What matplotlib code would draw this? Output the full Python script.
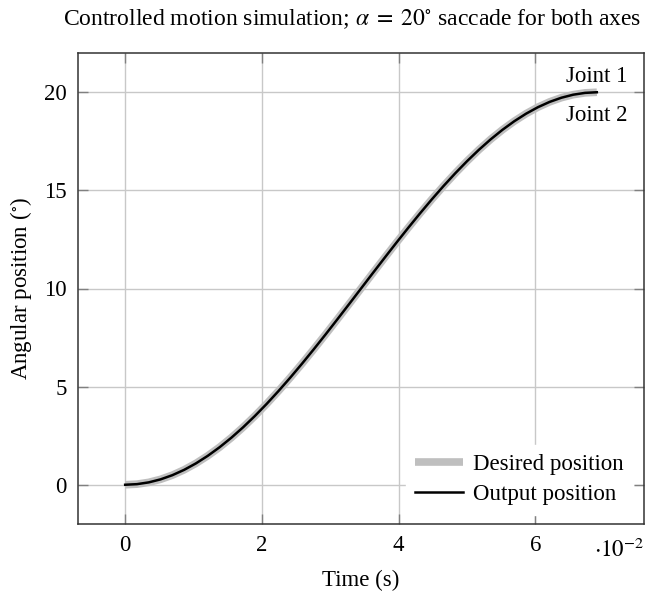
import matplotlib
matplotlib.use("Agg")
import matplotlib.pyplot as plt

plt.rcParams["font.family"] = ["Liberation Serif", "DejaVu Serif"]
plt.rcParams["mathtext.fontset"] = "stix"
plt.rcParams["font.size"] = 16.5

# Values (time in seconds, angle in degrees)
time_s = [0.0, 0.001725, 0.00345, 0.005175, 0.0069, 0.008625, 0.01035,
          0.012075, 0.0138, 0.015525, 0.01725, 0.018975, 0.0207, 0.022425,
          0.02415, 0.025875, 0.0276, 0.029325, 0.03105, 0.032775, 0.0345,
          0.036225, 0.03795, 0.039675, 0.0414, 0.043125, 0.04485, 0.046575,
          0.0483, 0.050025, 0.05175, 0.053475, 0.0552, 0.056925, 0.05865,
          0.060375, 0.0621, 0.063825, 0.06555, 0.067275, 0.069]
desired_deg = [0.0, 0.031, 0.123, 0.276, 0.489, 0.761, 1.090, 1.474, 1.910,
               2.396, 2.929, 3.506, 4.122, 4.775, 5.460, 6.173, 6.910, 7.665,
               8.436, 9.215, 10.0, 10.785, 11.564, 12.335, 13.090, 13.827,
               14.540, 15.225, 15.878, 16.494, 17.071, 17.604, 18.090, 18.526,
               18.910, 19.239, 19.511, 19.724, 19.877, 19.969, 20.0]
output_deg = [0.0, 0.030, 0.121, 0.274, 0.487, 0.759, 1.088, 1.472, 1.908,
              2.394, 2.927, 3.504, 4.120, 4.773, 5.458, 6.171, 6.908, 7.663,
              8.434, 9.213, 9.998, 10.783, 11.562, 12.333, 13.088, 13.825,
              14.538, 15.223, 15.876, 16.492, 17.069, 17.602, 18.088, 18.524,
              18.908, 19.237, 19.509, 19.722, 19.876, 19.968, 20.0]

x_ticks = [0.0, 0.02, 0.04, 0.06]
x_tick_labels = ["0", "2", "4", "6"]
y_ticks = [0, 5, 10, 15, 20]

fig = plt.figure(figsize=(6.46, 6.0), dpi=100)
ax = fig.add_axes([78 / 646, 1 - 524 / 600, 566 / 646, 471 / 600])

ax.plot(time_s, desired_deg, color="#bfbfbf", lw=5.5, solid_capstyle="butt",
        label="Desired position", zorder=3)
ax.plot(time_s, output_deg, color="black", lw=1.8, label="Output position",
        zorder=4)

ax.set_xlim(-0.0069, 0.0759)
ax.set_ylim(-2, 22)
ax.set_xticks(x_ticks)
ax.set_xticklabels(x_tick_labels)
ax.set_yticks(y_ticks)
ax.grid(True, color="#c8c8c8", lw=1.0)
ax.set_axisbelow(True)
ax.tick_params(direction="in", length=7, width=1, color="#808080",
               top=True, right=True, pad=8)
for s in ax.spines.values():
    s.set_color("#333333")
    s.set_linewidth(1.1)

ax.set_title(r"Controlled motion simulation; $\alpha\;=\;20^{\circ}$ saccade for both axes",
             pad=20, fontsize=17, x=0.485)
ax.set_xlabel("Time (s)", labelpad=10)
ax.set_ylabel(r"Angular position ($^{\circ}$)", labelpad=7)
ax.text(1.0, -0.055, r"$\cdot 10^{-2}$", transform=ax.transAxes,
        ha="right", va="center")

ax.annotate("Joint 1", (time_s[-1], desired_deg[-1]), xytext=(0, 4),
            textcoords="offset points", ha="center", va="bottom")
ax.annotate("Joint 2", (time_s[-1], desired_deg[-1]), xytext=(0, -9),
            textcoords="offset points", ha="center", va="top")

leg = ax.legend(loc="lower right", bbox_to_anchor=(0.98, 0.02),
                borderaxespad=0, frameon=True, fancybox=False,
                edgecolor="white", facecolor="white", framealpha=1,
                handlelength=2.1, handletextpad=0.42, labelspacing=0.4)
leg.set_zorder(5)

fig.savefig("out.png", dpi=100)
